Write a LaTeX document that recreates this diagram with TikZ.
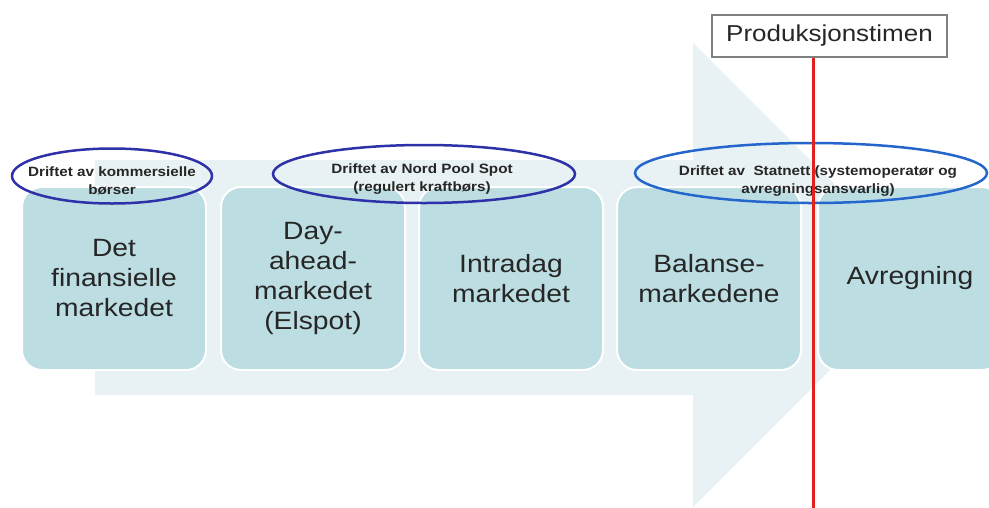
\documentclass[tikz,border=0pt]{standalone}
\usepackage{fontspec}
\setmainfont{Liberation Sans}
\newfontfamily\widefont[FakeStretch=1.13]{Liberation Sans}
\usetikzlibrary{shapes.geometric}
\definecolor{arrowc}{HTML}{E8F1F4}
\definecolor{boxc}{HTML}{BCDDE2}
\definecolor{textc}{HTML}{262626}
\definecolor{eblue}{HTML}{2E31A8}
\definecolor{eblueb}{HTML}{2566CC}
\definecolor{redl}{HTML}{E2201C}
\definecolor{greyb}{HTML}{808080}
\tikzset{
  mbox/.style={rectangle, rounded corners=20pt, fill=boxc, draw=white, line width=2pt,
    minimum width=184pt, minimum height=183pt, inner sep=0pt, align=center,
    text=textc, font=\widefont\fontsize{25}{30}\selectfont},
  ell/.style={ellipse, draw=eblue, line width=2.5pt, inner sep=0pt},
  etext/.style={align=center, inner sep=0pt, text=textc,
    font=\widefont\bfseries\fontsize{13.5}{18}\selectfont},
  prodbox/.style={rectangle, draw=greyb, line width=1.5pt, fill=white,
    minimum width=235pt, minimum height=42pt, inner sep=0pt, text=textc,
    font=\widefont\fontsize{23}{27}\selectfont},
  redline/.style={draw=redl, line width=3pt}
}
\begin{document}
\begin{tikzpicture}[x=1pt,y=-1pt]
\useasboundingbox (0,0) rectangle (989,507);
\clip (0,0) rectangle (989,507);
% big arrow
\fill[arrowc] (95,160) -- (693,160) -- (693,43) -- (925,275) -- (693,507) -- (693,395) -- (95,395) -- cycle;
% boxes
\node[mbox] (b1) at (114,278.5) {Det\\finansielle\\markedet};
\node[mbox] (b2) at (313,278.5) {Day-\\ahead-\\markedet\\(Elspot)};
\node[mbox] (b3) at (511,278.5) {Intradag\\markedet};
\node[mbox] (b4) at (709,278.5) {Balanse-\\markedene};
\node[mbox] (b5) at (910,278.5) {Avregning};
% ellipses
\node[ell, minimum width=200pt, minimum height=55pt] (e1) at (112,176) {};
\node[ell, minimum width=302pt, minimum height=58pt] (e2) at (424,174) {};
\node[ell, draw=eblueb, minimum width=352pt, minimum height=60pt] (e3) at (811,173) {};
\node[etext] (t1) at (112,181) {Driftet av kommersielle\\børser};
\node[etext] (t2) at (422,179.5) {Driftet av Nord Pool Spot\\(regulert kraftbørs)};
\node[etext] (t3) at (818,181) {Driftet av \ Statnett (systemoperatør og\\avregningsansvarlig)};
% production hour
\node[prodbox] (prod) at (829.5,36) {Produksjonstimen};
\coordinate (rend) at (813,510);
\draw[redline] (prod.south -| rend) -- (rend);
\end{tikzpicture}
\end{document}
